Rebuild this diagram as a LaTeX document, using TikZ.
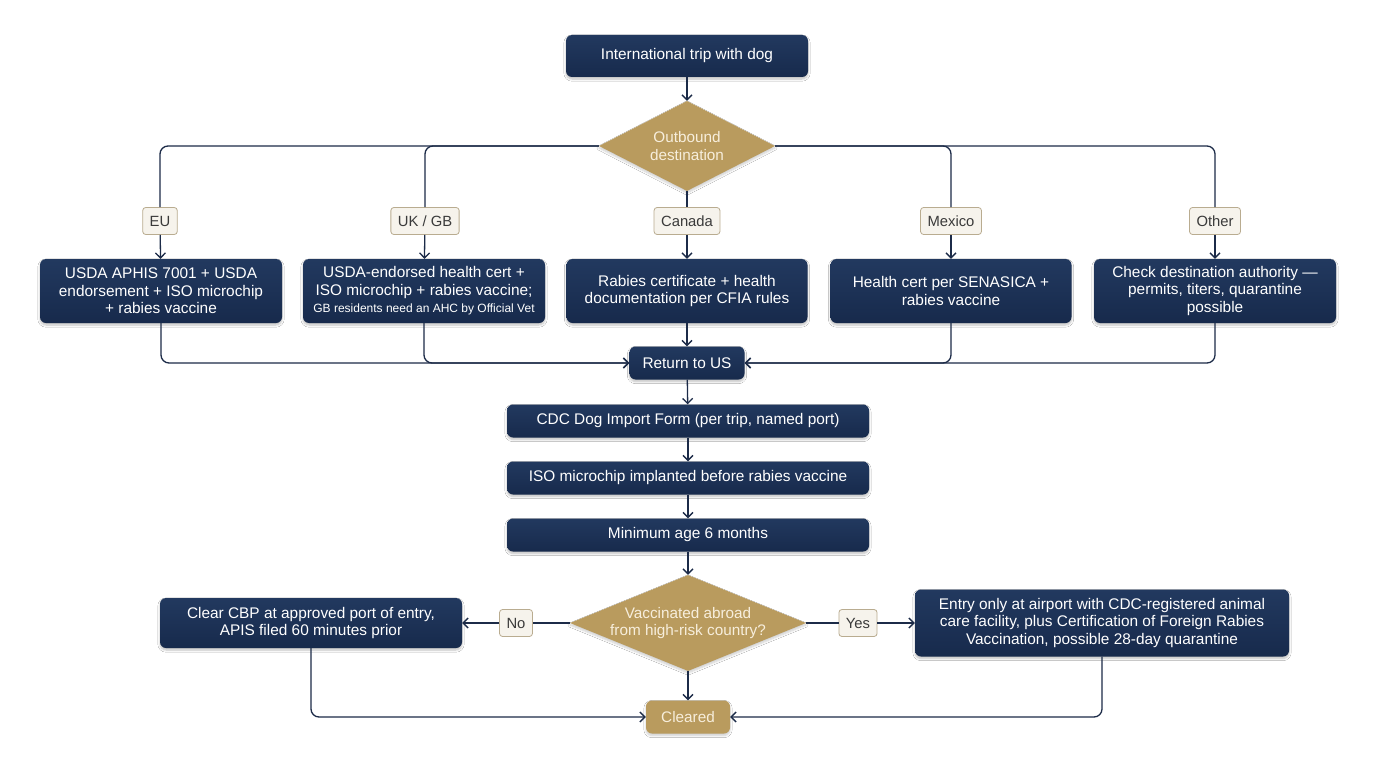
\documentclass[tikz,border=0pt]{standalone}
\usepackage{fontspec}
\setmainfont{Liberation Sans}
\usetikzlibrary{shapes.geometric,arrows.meta,shadows.blur}
\definecolor{navyA}{HTML}{22395F}
\definecolor{navyB}{HTML}{172A4C}
\definecolor{gold}{HTML}{B99B5E}
\definecolor{goldtext}{HTML}{F7EEDC}
\definecolor{lblfill}{HTML}{F6F3EC}
\definecolor{lbldraw}{HTML}{B9AC90}
\definecolor{linec}{HTML}{1C2B48}
\definecolor{lbltext}{HTML}{3A3A3A}
\tikzset{
  box/.style={rectangle, rounded corners=6pt, top color=navyA, bottom color=navyB,
    draw=none, text=white, align=center, inner sep=2pt,
    font=\fontsize{15.4}{17.5}\selectfont,
    blur shadow={shadow xshift=0pt, shadow yshift=-2pt, shadow blur steps=6, shadow opacity=25}},
  dia/.style={diamond, fill=gold, draw=none, inner sep=0pt,
    blur shadow={shadow xshift=0pt, shadow yshift=-2pt, shadow blur steps=6, shadow opacity=20}},
  diatext/.style={text=goldtext, align=center, font=\fontsize{15.3}{17.5}\selectfont},
  lbl/.style={rectangle, rounded corners=3pt, fill=lblfill, draw=lbldraw, line width=0.8pt,
    text=lbltext, font=\fontsize{14.8}{16}\selectfont, minimum height=27pt, inner xsep=7pt},
  conn/.style={draw=linec, line width=1.3pt, rounded corners=8pt},
  arr/.style={conn, -{Straight Barb[length=5pt,width=10pt,line width=1.3pt]}}
}
\begin{document}
\begin{tikzpicture}[x=1pt,y=-1pt]
\useasboundingbox[fill=white] (0,0) rectangle (1376,768);
% top
\node[box, minimum width=242pt, minimum height=42pt] (start) at (687,56) {International trip with dog};
\node[dia, minimum width=176pt, minimum height=90pt] (dest) at (687,146) {};
\node[diatext] at (dest.center) {Outbound\\destination};
% labels
\node[lbl] (lEU) at (160,221) {EU};
\node[lbl] (lUK) at (425,221) {UK / GB};
\node[lbl] (lCA) at (687,221) {Canada};
\node[lbl] (lMX) at (951,221) {Mexico};
\node[lbl] (lOT) at (1215,221) {Other};
% boxes
\node[box, minimum width=242pt, minimum height=64pt] (bEU) at (161,291) {USDA APHIS 7001 + USDA\\endorsement + ISO microchip\\+ rabies vaccine};
\node[box, minimum width=242pt, minimum height=64pt] (bUK) at (424,291) {USDA-endorsed health cert +\\ISO microchip + rabies vaccine;\\{\fontsize{12}{14}\selectfont GB residents need an AHC by Official Vet}};
\node[box, minimum width=241pt, minimum height=64pt] (bCA) at (687,291) {Rabies certificate + health\\documentation per CFIA rules};
\node[box, minimum width=241pt, minimum height=64pt] (bMX) at (951,291) {Health cert per SENASICA +\\rabies vaccine};
\node[box, minimum width=242pt, minimum height=64pt] (bOT) at (1215,291) {Check destination authority —\\permits, titers, quarantine\\possible};
% middle chain
\node[box, minimum width=115pt, minimum height=33pt] (ret) at (687,363) {Return to US};
\node[box, minimum width=362pt, minimum height=33pt] (cdc) at (688,421) {CDC Dog Import Form (per trip, named port)};
\node[box, minimum width=362pt, minimum height=33pt] (iso) at (688,478) {ISO microchip implanted before rabies vaccine};
\node[box, minimum width=362pt, minimum height=33pt] (age) at (688,535) {Minimum age 6 months};
\node[dia, minimum width=236pt, minimum height=96pt] (q2) at (688,623) {};
\node[diatext] at (q2.center) {Vaccinated abroad\\from high-risk country?};
\node[lbl] (lNo) at (516,623) {No};
\node[lbl] (lYes) at (858,623) {Yes};
\node[box, minimum width=302pt, minimum height=50pt] (clear) at (311,623) {Clear CBP at approved port of entry,\\APIS filed 60 minutes prior};
\node[box, minimum width=374pt, minimum height=67pt] (entry) at (1102,623) {Entry only at airport with CDC-registered animal\\care facility, plus Certification of Foreign Rabies\\Vaccination, possible 28-day quarantine};
\node[rectangle, rounded corners=6pt, fill=gold, text=goldtext, minimum width=84pt, minimum height=33pt,
  font=\fontsize{15.3}{17}\selectfont,
  blur shadow={shadow xshift=0pt, shadow yshift=-2pt, shadow blur steps=6, shadow opacity=20}] (done) at (688,717) {Cleared};
% connectors
\draw[arr] (start) -- (dest);
\draw[conn] (dest.west) -| (lEU.north);
\draw[conn] (dest.west) -| (lUK.north);
\draw[conn] (dest.east) -| (lMX.north);
\draw[conn] (dest.east) -| (lOT.north);
\draw[conn] (dest.south) -- (lCA.north);
\draw[arr] (lEU) -- (bEU);
\draw[arr] (lUK) -- (bUK);
\draw[arr] (lCA) -- (bCA);
\draw[arr] (lMX) -- (bMX);
\draw[arr] (lOT) -- (bOT);
\draw[arr] (bEU.south) |- (ret.west);
\draw[arr] (bUK.south) |- (ret.west);
\draw[arr] (bCA) -- (ret);
\draw[arr] (bMX.south) |- (ret.east);
\draw[arr] (bOT.south) |- (ret.east);
\draw[arr] (ret) -- (cdc);
\draw[arr] (cdc) -- (iso);
\draw[arr] (iso) -- (age);
\draw[arr] (age) -- (q2);
\draw[conn] (q2.west) -- (lNo);
\draw[arr] (lNo) -- (clear);
\draw[conn] (q2.east) -- (lYes);
\draw[arr] (lYes) -- (entry);
\draw[arr] (q2) -- (done);
\draw[arr] (clear.south) |- (done.west);
\draw[arr] (entry.south) |- (done.east);
\end{tikzpicture}
\end{document}
